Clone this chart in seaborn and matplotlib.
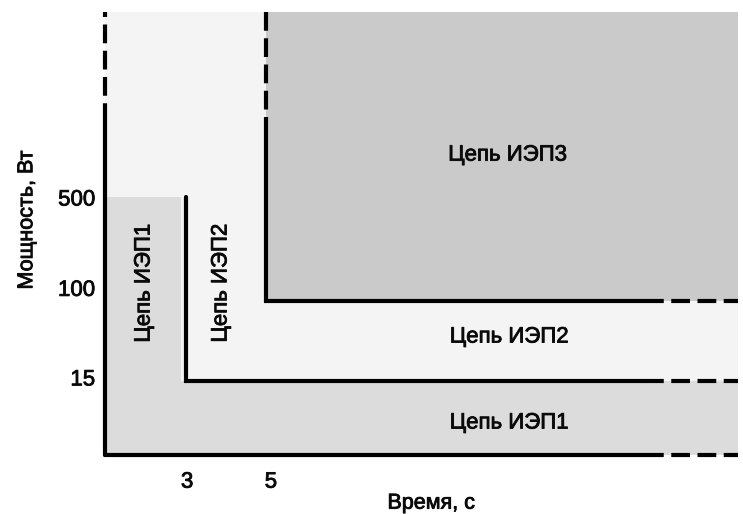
import matplotlib
matplotlib.use("Agg")
import matplotlib.pyplot as plt
import matplotlib.patheffects as pe
import seaborn as sns

# schematic breakpoints (axis units)
time_labels = ['3', '5']
time_levels = [1.0, 2.0]          # x of ИЭП2 / ИЭП3 boundaries
time_tick_pos = [1.02, 2.06]
power_labels = ['15', '100', '500']
power_levels = [0.93, 1.93, 3.23]  # y of 15 W, 100 W, 500 W
power_tick_pos = [0.97, 2.09, 3.22]
x_solid_end, x_max = 6.71, 7.86
y_solid_end, y_max = 4.16, 5.54

region_names = ['Цепь ИЭП1', 'Цепь ИЭП2', 'Цепь ИЭП3']

sns.set_theme(style='white')
plt.rcParams['font.family'] = ['Liberation Sans', 'DejaVu Sans']

fig = plt.figure(figsize=(7.43, 5.14), dpi=100)
ax = fig.add_axes([105 / 743, 59 / 514, 633 / 743, 443 / 514])
ax.set_facecolor('#f4f4f4')
ax.set_xlim(0, x_max)
ax.set_ylim(0, y_max)
for s in ax.spines.values():
    s.set_visible(False)

# filled zones
ax.fill_between([0, time_levels[0] - 0.06, time_levels[0] - 0.06, x_max],
                [power_levels[2], power_levels[2], power_levels[0], power_levels[0]],
                0, color='#dcdcdc', lw=0)
ax.fill_between([time_levels[1], x_max], power_levels[1], y_max,
                color='#cacaca', lw=0)

solid = dict(color='black', lw=3, estimator=None, sort=False, ax=ax)


def seg(xs, ys, dash=False):
    line = sns.lineplot(x=xs, y=ys, **solid).lines[-1]
    line.set_clip_on(False)
    line.set_solid_joinstyle('miter')
    if dash:
        line.set_linestyle((0, (4.5, 1.8)))


# axes
seg([0, 0], [0, y_solid_end])
seg([0, 0], [y_solid_end, y_max], dash=True)
seg([0, x_solid_end], [0, 0])
seg([x_solid_end, x_max], [0, 0], dash=True)
# ИЭП1 boundary
seg([time_levels[0], time_levels[0], x_solid_end],
    [power_levels[2], power_levels[0], power_levels[0]])
seg([x_solid_end, x_max], [power_levels[0]] * 2, dash=True)
# ИЭП3 boundary
seg([time_levels[1], time_levels[1]], [y_max, y_solid_end], dash=True)
seg([time_levels[1], time_levels[1], x_solid_end],
    [y_solid_end, power_levels[1], power_levels[1]])
seg([x_solid_end, x_max], [power_levels[1]] * 2, dash=True)

fs = 16
tc = '#0a0a0a'
heavy = [pe.withStroke(linewidth=0.6, foreground=tc)]
labels = [
    ax.text(5.0, 3.75, region_names[2], ha='center', va='center', fontsize=fs, color=tc),
    ax.text(5.02, 1.475, region_names[1], ha='center', va='center', fontsize=fs, color=tc),
    ax.text(5.02, 0.40, region_names[0], ha='center', va='center', fontsize=fs, color=tc),
    ax.text(0.485, 2.15, region_names[0], ha='center', va='center', fontsize=fs,
            color=tc, rotation=90),
    ax.text(1.44, 2.15, region_names[1], ha='center', va='center', fontsize=fs,
            color=tc, rotation=90),
]

ax.set_xticks(time_tick_pos)
ax.set_xticklabels(time_labels)
ax.set_yticks(power_tick_pos)
ax.set_yticklabels(power_labels)
ax.tick_params(axis='x', length=0, pad=12, labelsize=16, labelcolor=tc)
ax.tick_params(axis='y', length=0, pad=7, labelsize=16, labelcolor=tc)

ax.set_xlabel('Время, с', fontsize=15.5, color=tc)
ax.set_ylabel('Мощность, Вт', fontsize=15.5, color=tc)
ax.xaxis.set_label_coords(0.515, -0.085)
ax.yaxis.set_label_coords(-0.107, 0.53)

for t in labels + ax.get_xticklabels() + ax.get_yticklabels() + [ax.xaxis.label, ax.yaxis.label]:
    t.set_path_effects(heavy)

fig.savefig('out.png', dpi=100, facecolor='white')
